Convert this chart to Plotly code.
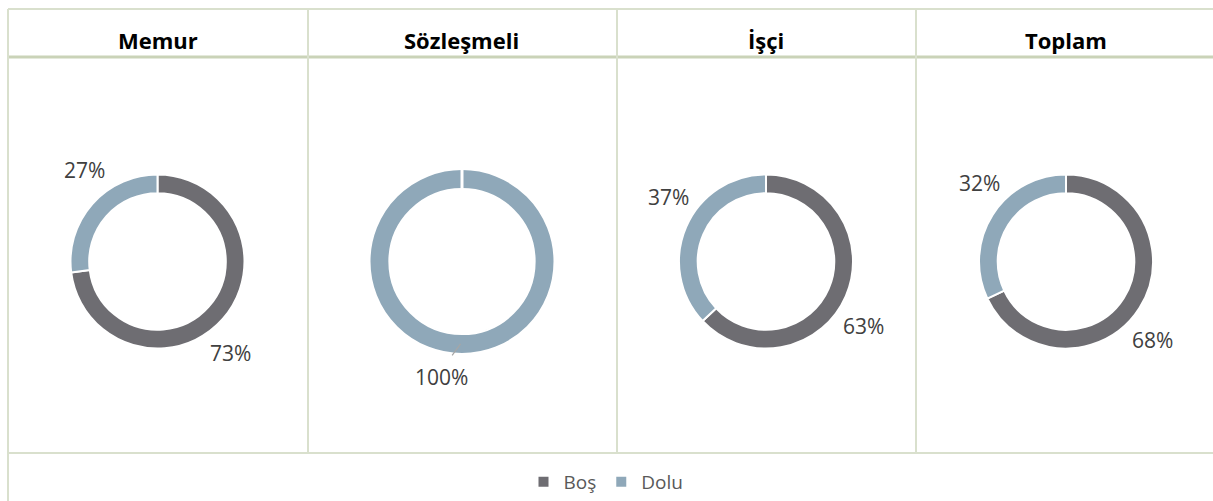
import math
import plotly.graph_objects as go

# ---- data ----
categories = ["Memur", "Sözleşmeli", "İşçi", "Toplam"]
slice_labels = ["Boş", "Dolu"]
bos_values = [73, 0, 63, 68]
dolu_values = [27, 100, 37, 32]

# ---- style / layout (pixel positions as seen in the page) ----
W, H = 1213, 501
colors = {"Boş": "#6e6d72", "Dolu": "#8fa8b9"}
centers_px = [(157.5, 261.5), (462, 261.5), (766, 261.5), (1066, 261.5)]
radii_px = [87, 92.5, 87, 87]
HOLE = 0.785
LABEL_DIST = 117
LABEL_ROT = 10  # deg, clockwise shift of label from slice midpoint
grid_color = "#d9e0cd"
header_line_color = "#cad3b8"
col_lines_x = [308, 617, 916]
left_x, top_y, head_y, bottom_y = 8, 9, 57, 453
header_centers_x = [158, 462, 766, 1066]
header_y = 40


def px(x):
    return x / W


def py(y):
    return 1 - y / H


fig = go.Figure()
annotations = []
shapes = []

for i, cat in enumerate(categories):
    cx, cy = centers_px[i]
    r = radii_px[i]
    vals = [bos_values[i], dolu_values[i]]
    fig.add_trace(go.Pie(
        labels=slice_labels,
        values=vals,
        sort=False,
        direction="clockwise",
        rotation=0,
        hole=HOLE,
        textinfo="none",
        marker=dict(colors=[colors[l] for l in slice_labels],
                    line=dict(color="white", width=2)),
        domain=dict(x=[px(cx - r), px(cx + r)], y=[py(cy + r), py(cy - r)]),
        showlegend=(i == 0),
        name=cat,
        hovertemplate="%{label}: %{percent}<extra>" + cat + "</extra>",
    ))
    total = sum(vals)
    cum = 0
    for v in vals:
        if v <= 0:
            cum += v
            continue
        share = v / total
        mid = (cum + v / 2) / total * 360 + LABEL_ROT
        cum += v
        th = math.radians(mid)
        lx = cx + LABEL_DIST * math.sin(th)
        ly = cy - LABEL_DIST * math.cos(th)
        annotations.append(dict(
            x=px(lx), y=py(ly), xref="paper", yref="paper",
            text=f"{round(share * 100)}%", showarrow=False,
            font=dict(family="Open Sans", size=21, color="#404040"),
            xanchor="center", yanchor="middle"))
        if share >= 0.999:
            # leader line for the full-ring label
            a1, a2 = math.radians(181), math.radians(186)
            shapes.append(dict(
                type="line", xref="paper", yref="paper",
                x0=px(cx + 0.89 * r * math.sin(a1)), y0=py(cy - 0.89 * r * math.cos(a1)),
                x1=px(cx + 1.02 * r * math.sin(a2)), y1=py(cy - 1.02 * r * math.cos(a2)),
                line=dict(color="#a6a6a6", width=1.2)))
    if min(vals) == 0:
        # seam at 12 o'clock where the empty slice sits
        shapes.append(dict(
            type="line", xref="paper", yref="paper",
            x0=px(cx), y0=py(cy - r * HOLE + 1), x1=px(cx), y1=py(cy - r - 1),
            line=dict(color="white", width=3), layer="above"))
    annotations.append(dict(
        x=px(header_centers_x[i]), y=py(header_y), xref="paper", yref="paper",
        text=f"<b>{cat}</b>", showarrow=False,
        font=dict(family="Open Sans", size=22, color="#000000"),
        xanchor="center", yanchor="middle"))

# grid lines
def hline(y, w, c):
    shapes.append(dict(type="line", xref="paper", yref="paper",
                       x0=px(left_x), x1=1, y0=py(y), y1=py(y),
                       line=dict(color=c, width=w), layer="below"))

hline(top_y, 2, grid_color)
hline(head_y, 3, header_line_color)
hline(bottom_y, 2, grid_color)
shapes.append(dict(type="line", xref="paper", yref="paper",
                   x0=px(left_x), x1=px(left_x), y0=py(top_y), y1=0,
                   line=dict(color=grid_color, width=2), layer="below"))
for x in col_lines_x:
    shapes.append(dict(type="line", xref="paper", yref="paper",
                       x0=px(x), x1=px(x), y0=py(top_y), y1=py(bottom_y),
                       line=dict(color=grid_color, width=2), layer="below"))

fig.update_layout(
    width=W, height=H,
    margin=dict(l=0, r=0, t=0, b=0),
    paper_bgcolor="white", plot_bgcolor="white",
    annotations=annotations, shapes=shapes,
    legend=dict(orientation="h", x=px(606), xanchor="center", y=0, yanchor="bottom",
                font=dict(family="Open Sans", size=19, color="#595959"),
                itemwidth=30, traceorder="normal"),
)

fig.write_html(
    "out.html",
    config={"displayModeBar": False},
    post_script="document.body.style.margin='0';document.body.style.overflow='hidden';",
)
